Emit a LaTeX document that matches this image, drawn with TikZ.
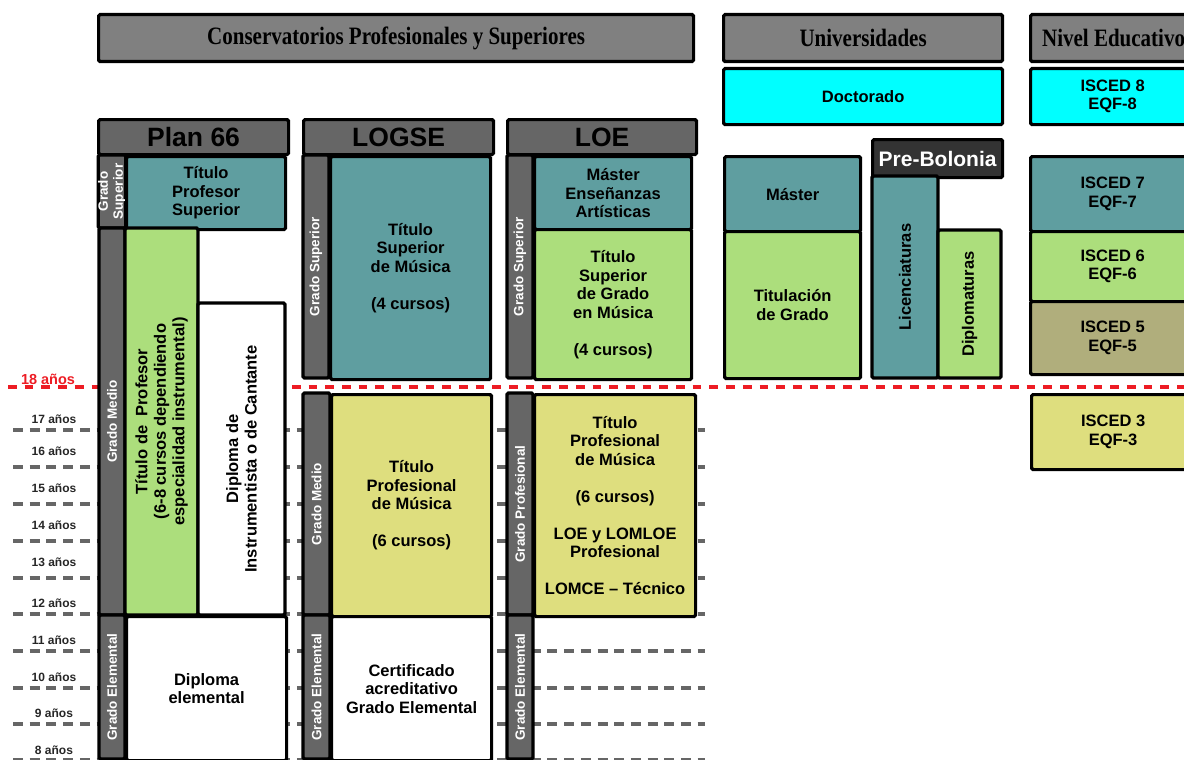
\documentclass[tikz,border=0pt]{standalone}
\usepackage{fontspec}
\setmainfont{Liberation Sans}
\newfontfamily\serifb[FakeStretch=0.84]{Liberation Serif}

\definecolor{gris}{HTML}{808080}
\definecolor{oscuro}{HTML}{666666}
\definecolor{negro}{HTML}{333333}
\definecolor{azul}{HTML}{5F9EA0}
\definecolor{celeste}{RGB}{0,255,255}
\definecolor{verde}{RGB}{172,222,124}
\definecolor{amarillo}{RGB}{222,222,126}
\definecolor{oliva}{RGB}{176,174,124}
\definecolor{rojo}{RGB}{237,28,36}

\tikzset{
    caja/.style args={#1/#2/#3/#4}{
        draw=black, line width=3.2pt, rounded corners=1.5pt, inner sep=0pt,
        anchor=north west, at={(#1,#2)},
        minimum width={#3-#1}, minimum height={#4-#2},
        align=center, font=\bfseries\fontsize{16.5}{18.5}\selectfont
    },
    cajav/.style args={#1/#2/#3/#4}{
        draw=black, line width=3.2pt, rounded corners=1.5pt, inner sep=0pt,
        rotate=90, at={({(#1+#3)/2},{(#2+#4)/2})},
        minimum width={#4-#2}, minimum height={#3-#1},
        align=center, font=\bfseries\fontsize{16.5}{18.5}\selectfont
    },
    barra/.style={fill=oscuro, text=white, font=\bfseries\fontsize{13.5}{15}\selectfont},
    titulo/.style={fill=gris, font=\serifb\bfseries\fontsize{25}{26}\selectfont},
    ley/.style={fill=oscuro, font=\bfseries\fontsize{26.5}{28}\selectfont},
    edad/.style={draw=oscuro, line width=3.3pt, dash pattern=on 10pt off 6.7pt},
    anos/.style={text=black!85, font=\bfseries\fontsize{12}{13}\selectfont}
}

\begin{document}
\begin{tikzpicture}[x=1pt, y=-1pt]
                      \useasboundingbox (0,0) rectangle (1184,760);
                      \clip (0,0) rectangle (1184,760);

                      \foreach \a/\t/\l in {17/419/430, 16/451/467, 15/488/504, 14/525/541, 13/562/578,
                                            12/603/614, 11/640/651, 10/677/688, 9/713/724, 8/750/760}{
                          \draw[edad] (13,\l) -- (705,\l);
                          \node[anos] (e\a) at (54,\t) {\a{} años};
                      }
                      \draw[rojo, line width=4pt, dash pattern=on 8.7pt off 8pt] (8,387) -- (1184,387);
                      \node[text=rojo, font=\bfseries\fontsize{14.5}{15}\selectfont] (e18) at (48,379) {18 años};

                      \node[caja=97/13/692/60, titulo] (conserv) {Conservatorios Profesionales y Superiores};
                      \node[caja=722/13/1001/60, titulo] (univ) {Universidades};
                      \node[caja=1029/13/1195/60, titulo] (nivel) {Nivel Educativo};

                      \node[caja=97/118/287/153, ley] (plan) {Plan 66};
                      \node[caja=302/118/492/153, ley] (logse) {LOGSE};
                      \node[caja=506/118/695/153, ley] (loe) {LOE};

                      \node[cajav=99/155/125/228, barra] (psup) {Grado\\Superior};
                      \node[caja=125/155/284/228, fill=azul] (ptps) {Título\\Profesor\\Superior};
                      \node[cajav=99/228/125/615, barra] (pmed) {Grado Medio};
                      \node[cajav=125/228/198/615, fill=verde] (ptp) {Título de\ \ Profesor\\(6-8 cursos dependiendo\\especialidad instrumental)};
                      \node[cajav=198/303/285/615, fill=white] (pdip) {Diploma de\\Instrumentista o de Cantante};
                      \node[cajav=99/615/125/759, barra] (pele) {Grado Elemental};
                      \node[caja=125/615/285/759, fill=white] (pdel) {Diploma\\elemental};

                      \node[cajav=303/155/329/378, barra] (lsup) {Grado Superior};
                      \node[caja=329/155/489/378, fill=azul] (ltsm) {Título\\Superior\\de Música\\[18.5pt](4 cursos)};
                      \node[cajav=303/393/330/615, barra] (lmed) {Grado Medio};
                      \node[caja=330/393/490/615, fill=amarillo] (ltpm) {Título\\Profesional\\de Música\\[18.5pt](6 cursos)};
                      \node[cajav=303/615/330/759, barra] (lele) {Grado Elemental};
                      \node[caja=330/615/490/759, fill=white] (lcert) {Certificado\\acreditativo\\Grado Elemental};

                      \node[cajav=507/155/533/378, barra] (osup) {Grado Superior};
                      \node[caja=533/155/690/228, fill=azul] (omea) {Máster\\Enseñanzas\\Artísticas};
                      \node[caja=533/228/690/378, fill=verde] (otsg) {Título\\Superior\\de Grado\\en Música\\[18.5pt](4 cursos)};
                      \node[cajav=507/393/533/615, barra] (opro) {Grado Profesional};
                      \node[caja=533/393/694/615, fill=amarillo] (otpm) {Título\\Profesional\\de Música\\[18.5pt](6 cursos)\\[18.5pt]LOE y LOMLOE\\Profesional\\[18.5pt]LOMCE – Técnico};
                      \node[cajav=507/615/533/759, barra] (oele) {Grado Elemental};

                      \node[caja=722/67/1001/123, fill=celeste] (doct) {Doctorado};
                      \node[caja=723/155/859/230, fill=azul] (umas) {Máster};
                      \node[caja=723/230/859/377, fill=verde] (ugra) {Titulación\\de Grado};
                      \node[caja=871/138/1001/176, fill=negro, text=white, font=\bfseries\fontsize{21}{22}\selectfont] (prebo) {Pre-Bolonia};
                      \node[cajav=872/176/938/378, fill=azul] (ulic) {Licenciaturas};
                      \node[cajav=938/230/1001/378, fill=verde] (udip) {Diplomaturas};

                      \node[caja=1029/67/1193/123, fill=celeste] (isc8) {ISCED 8\\EQF-8};
                      \node[caja=1029/155/1193/230, fill=azul] (isc7) {ISCED 7\\EQF-7};
                      \node[caja=1029/230/1193/300, fill=verde] (isc6) {ISCED 6\\EQF-6};
                      \node[caja=1029/300/1193/373, fill=oliva] (isc5) {ISCED 5\\EQF-5};
                      \node[caja=1030/393/1193/468, fill=amarillo] (isc3) {ISCED 3\\EQF-3};
                  \end{tikzpicture}
\end{document}
